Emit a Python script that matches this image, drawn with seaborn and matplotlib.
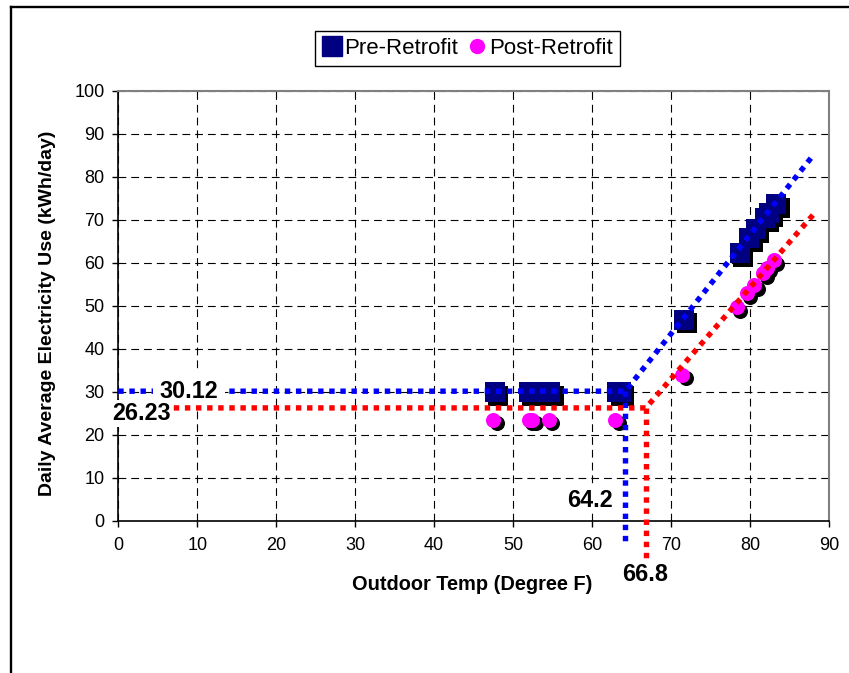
import matplotlib
matplotlib.use("Agg")
import matplotlib.pyplot as plt
import matplotlib.transforms as mtransforms
from matplotlib.lines import Line2D
import seaborn as sns

# Monthly points: outdoor temperature (F) vs daily average electricity use (kWh/day)
pre_temp = [47.7, 52.0, 53.3, 54.7, 63.2, 63.6, 71.6, 78.7, 79.9, 80.7, 81.9, 82.4, 83.3]
pre_kwh = [29.9, 29.9, 29.9, 29.9, 29.9, 29.9, 46.7, 62.2, 65.7, 67.8, 70.3, 71.5, 73.6]
post_temp = [47.5, 52.0, 52.4, 54.5, 62.9, 71.4, 78.3, 79.6, 80.5, 81.7, 82.1, 83.0]
post_kwh = [23.5, 23.5, 23.5, 23.5, 23.5, 33.9, 49.7, 52.9, 54.8, 57.6, 58.8, 60.6]

# Change-point fits: base load, balance temperature, end of the cooling slope
pre_base, pre_balance = 30.12, 64.2
post_base, post_balance = 26.23, 66.8
pre_end = (88.0, 85.0)
post_end = (88.2, 71.6)

x_ticks = list(range(0, 91, 10))
y_ticks = list(range(0, 101, 10))

PRE_COLOR = "#000080"
POST_COLOR = "#FF00FF"
PRE_LINE = "#0000FF"
POST_LINE = "#FF0000"

plt.rcParams["font.family"] = ["Liberation Sans", "DejaVu Sans"]

fig = plt.figure(figsize=(8.49, 6.73), dpi=100)
fig.patch.set_facecolor("white")
ax = fig.add_axes([0.1393, 0.2263, 0.8372, 0.6389])

# Outer chart frame (top and left edges)
fig.add_artist(Line2D([11 / 849, 11 / 849], [0, 1 - 7 / 673], transform=fig.transFigure,
                      color="black", lw=1.7))
fig.add_artist(Line2D([11 / 849, 1], [1 - 7 / 673, 1 - 7 / 673], transform=fig.transFigure,
                      color="black", lw=1.7))

shadow = mtransforms.ScaledTranslation(3.5 / 100, -3.5 / 100, fig.dpi_scale_trans)

# Drop shadows, then the markers themselves
sns.scatterplot(x=pre_temp, y=pre_kwh, ax=ax, color="black", marker="s", s=207,
                linewidth=0, legend=False, zorder=2)
ax.collections[-1].set_offset_transform(ax.transData + shadow)
sns.scatterplot(x=post_temp, y=post_kwh, ax=ax, color="black", marker="o", s=117,
                linewidth=0, legend=False, zorder=2)
ax.collections[-1].set_offset_transform(ax.transData + shadow)
sns.scatterplot(x=pre_temp, y=pre_kwh, ax=ax, color=PRE_COLOR, marker="s", s=207,
                linewidth=0, legend=False, zorder=3)
sns.scatterplot(x=post_temp, y=post_kwh, ax=ax, color=POST_COLOR, marker="o", s=117,
                linewidth=0, legend=False, zorder=3)

dot_style = dict(linewidth=3.9, linestyle=(0, (1, 1.05)), dash_capstyle="butt",
                 clip_on=False)
ax.plot([0, pre_balance, pre_end[0]], [pre_base, pre_base, pre_end[1]], color=PRE_LINE,
        zorder=4, **dot_style)
ax.plot([pre_balance, pre_balance], [pre_base, -6], color=PRE_LINE, zorder=4, **dot_style)
ax.plot([0, post_balance, post_end[0]], [post_base, post_base, post_end[1]], color=POST_LINE,
        zorder=5, **dot_style)
ax.plot([post_balance, post_balance], [post_base, -9], color=POST_LINE, zorder=5, **dot_style)

label_style = dict(fontsize=16.8, fontweight="bold", ha="center", va="center",
                   clip_on=False)
ax.text(8.95, pre_base, f"{pre_base:.2f}", zorder=4.5,
        bbox=dict(facecolor="white", edgecolor="none", pad=4.5), **label_style)
ax.text(3.0, 24.9, f"{post_base:.2f}", zorder=6,
        bbox=dict(facecolor="white", edgecolor="none", pad=1.5), **label_style)
ax.text(59.7, 4.8, f"{pre_balance:.1f}", zorder=6,
        bbox=dict(facecolor="white", edgecolor="none", pad=1), **label_style)
ax.text(66.7, -12.6, f"{post_balance:.1f}", zorder=6, **label_style)

ax.set_xlim(0, 90)
ax.set_ylim(0, 100)
ax.set_xticks(x_ticks)
ax.set_yticks(y_ticks)
ax.set_xlabel("")
ax.set_ylabel("")
ax.set_axisbelow(True)
ax.grid(True, color="black", linestyle=(0, (7, 4.5)), linewidth=0.8)

for side in ("left", "bottom"):
    ax.spines[side].set_color("black")
    ax.spines[side].set_linewidth(1.2)
for side in ("top", "right"):
    ax.spines[side].set_color("#808080")
    ax.spines[side].set_linewidth(1.5)

ax.tick_params(axis="both", direction="out", length=4, width=1, color="black",
               labelsize=13, labelcolor="black")
ax.tick_params(axis="x", pad=7.5)
ax.tick_params(axis="y", pad=6)

fig.text(0.556, 0.1308, "Outdoor Temp (Degree F)", fontsize=14.4, fontweight="bold",
         ha="center", va="center")
fig.text(0.0554, 0.535, "Daily Average Electricity Use (kWh/day)", fontsize=14,
         fontweight="bold", rotation=90, ha="center", va="center")

handles = [
    Line2D([], [], marker="s", color=PRE_COLOR, linestyle="none", markersize=14.4),
    Line2D([], [], marker="o", color=POST_COLOR, linestyle="none", markersize=10),
]
leg = fig.legend(handles, ["Pre-Retrofit", "Post-Retrofit"], loc="center",
                 bbox_to_anchor=(0.5507, 0.928), ncol=2, frameon=True, fancybox=False,
                 edgecolor="black", framealpha=1, fontsize=16, handlelength=0.9,
                 handletextpad=0.1, columnspacing=0.4, borderpad=0.3, borderaxespad=0)
leg.get_frame().set_linewidth(1.0)

fig.savefig("out.png", dpi=100)
